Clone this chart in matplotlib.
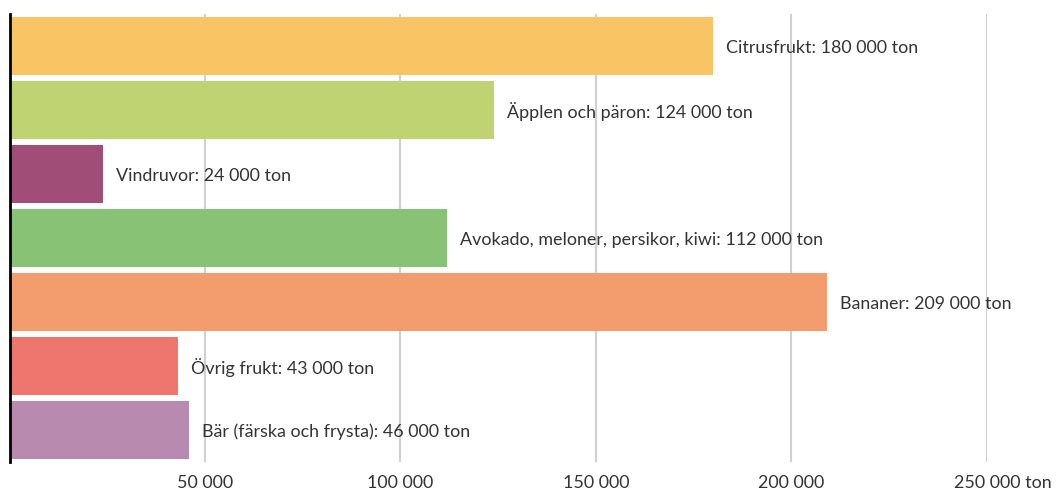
import matplotlib
matplotlib.use("Agg")
import matplotlib.pyplot as plt
import matplotlib.transforms as mtransforms

categories = ["Citrusfrukt", "Äpplen och päron", "Vindruvor",
              "Avokado, meloner, persikor, kiwi", "Bananer",
              "Övrig frukt", "Bär (färska och frysta)"]
values = [180000, 124000, 24000, 112000, 209000, 43000, 46000]
colors = ["#F9C463", "#BFD372", "#A04E77", "#88C375", "#F39C6D",
          "#EF766E", "#B88AAF"]
xticks = [50000, 100000, 150000, 200000, 250000]
xticklabels = ["50 000", "100 000", "150 000", "200 000", "250 000 ton"]

def fmt(v):
    return f"{v:,}".replace(",", " ")

plt.rcParams['font.family'] = ['Lato', 'DejaVu Sans']

fig = plt.figure(figsize=(10.57, 4.88), dpi=100)
W, H = 1057, 488
ax = fig.add_axes([9.5 / W, (H - 462) / H, (987 - 9.5) / W, 448 / H])

y = list(range(len(categories)))
ax.barh(y, values, height=0.9, color=colors, zorder=2)
ax.set_ylim(len(categories) - 0.5, -0.5)
ax.set_xlim(0, 250000)

for yi, v, c in zip(y, values, categories):
    ax.annotate(f"{c}: {fmt(v)} ton", (v, yi), xytext=(13, -1.5),
                textcoords="offset pixels", va="center", ha="left",
                fontsize=12.9, color="#333333", zorder=3)

ax.set_xticks(xticks)
ax.set_xticklabels(xticklabels, fontsize=12.9, color="#333333")
ax.tick_params(axis="x", length=0, pad=9)
ax.set_yticks([])
ax.grid(axis="x", color="#D0D0D0", linewidth=1.5, zorder=1)
for s in ["top", "right", "bottom"]:
    ax.spines[s].set_visible(False)
ax.spines["left"].set_color("black")
ax.spines["left"].set_linewidth(2)
ax.spines["left"].set_zorder(4)

lbl = ax.get_xticklabels()[-1]
lbl.set_transform(lbl.get_transform() + mtransforms.ScaledTranslation(16 / 100, 0, fig.dpi_scale_trans))

fig.savefig("out.png", dpi=100)
